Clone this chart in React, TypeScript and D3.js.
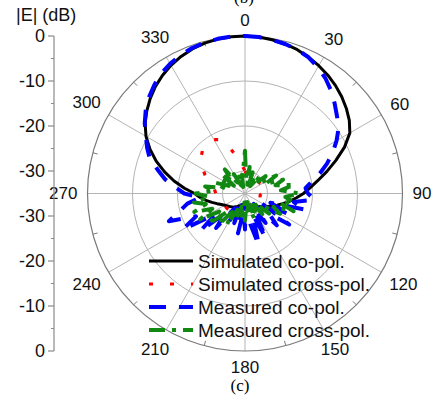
import React from "react";
import * as d3 from "d3";

// ---- data (dB) ----
const angleLabels = ["0", "30", "60", "90", "120", "150", "180", "210", "240", "270", "300", "330"];
const radialTicks = [0, -10, -20, -30];
const radialMinor = [-5, -15, -25];
const stepDeg = 5;

const simCo = [
  0, -0.1, -0.3, -0.6, -1.0, -1.6, -2.2, -2.9, -3.7, -4.6, -5.6, -6.7,
  -8.1, -10.6, -13.5, -16.2, -18.6, -20.5, -22.0, -23.6, -25.0, -26.3, -27.4, -28.4,
  -29.2, -29.9, -30.5, -31.0, -31.4, -31.7, -32.0, -32.2, -32.4, -32.5, -32.6, -32.6,
  -32.6, -32.6, -32.5, -32.4, -32.2, -32.0, -31.7, -31.4, -31.0, -30.8, -30.5, -30.2,
  -29.8, -29.2, -28.4, -27.4, -26.2, -25.0, -23.8, -21.5, -19.0, -16.5, -14.0, -11.7,
  -9.6, -7.9, -6.5, -5.2, -4.0, -3.0, -2.1, -1.4, -0.8, -0.4, -0.15, -0.03,
];

const simCross = [
  -30.0, -30.8, -31.3, -31.5, -31.6, -31.4, -31.0, -30.6, -30.4, -30.5, -30.8, -31.0,
  -30.8, -30.3, -30.0, -29.9, -30.2, -30.8, -31.3, -31.6, -31.6, -31.5, -31.4, -31.6,
  -32.0, -32.4, -32.8, -33.0, -33.2, -33.3, -33.4, -33.4, -33.4, -33.3, -33.2, -33.0,
  -32.8, -32.6, -32.3, -32.0, -31.6, -31.2, -30.8, -30.4, -30.1, -29.9, -29.8, -29.8,
  -29.9, -30.0, -29.9, -29.6, -29.2, -28.8, -28.5, -28.3, -28.0, -27.3, -26.3, -25.2,
  -24.2, -23.2, -22.3, -21.6, -21.2, -21.0, -21.2, -21.8, -23.5, -25.8, -27.6, -29.0,
];

const measCo = [
  0, -0.1, -0.3, -0.6, -1.0, -1.6, -2.6, -3.8, -5.2, -6.8, -8.3, -9.6,
  -11.5, -13.5, -15.6, -17.8, -20.0, -21.5, -21.0, -19.5, -24, -21, -29, -24,
  -31, -23, -28, -25, -32, -27, -31, -24, -30, -23, -28, -33,
  -27, -31, -26, -33, -28, -32, -27, -31, -25, -29, -22, -27,
  -19, -23, -17, -20, -22, -25, -21.5, -19.5, -17, -15, -12.5, -11,
  -9.6, -7.8, -6.2, -4.8, -3.6, -2.5, -1.7, -1.1, -0.6, -0.3, -0.1, 0,
];

const measCross = [
  -25.5, -32, -29, -33, -30, -33.5, -31, -33, -30, -32, -29, -31,
  -27, -30, -26, -28, -24, -27, -23, -26, -24, -27, -23.5, -28,
  -26, -30, -28, -32, -29, -33, -30, -32, -29, -33, -30, -32,
  -29, -33, -30, -32, -29, -31, -27, -30, -26, -29, -24.5, -28,
  -23.5, -27, -23, -26, -23.5, -27, -24, -28, -26, -30, -28, -31,
  -29, -32, -28.5, -31, -28, -32, -30, -33, -31, -33.5, -31, -30,
];

const seriesNames = ["Simulated co-pol.", "Simulated cross-pol.", "Measured co-pol.", "Measured cross-pol."];

// ---- layout ----
const W = 435;
const H = 405;
const cx = 245;
const cy = 193.5;
const R = 157.5;
const font = "'Liberation Sans', Arial, sans-serif";

const rScale = d3.scaleLinear().domain([-35, 0]).range([0, R]).clamp(true);
const yTop = d3.scaleLinear().domain([-35, 0]).range([cy, cy - R]);
const yBot = d3.scaleLinear().domain([-35, 0]).range([cy, cy + R]);

const styles = [
  { color: "#000000", width: 3, dash: "none" },
  { color: "#ff0000", width: 3.2, dash: "4,17" },
  { color: "#0000ff", width: 4, dash: "17,13" },
  { color: "#118811", width: 4, dash: "16,7,4,7" },
];

const toPts = (vals: number[]) => vals.map((v, i) => ({ a: (i * stepDeg * Math.PI) / 180, v }));
const radial = d3
  .lineRadial<{ a: number; v: number }>()
  .angle((d) => d.a)
  .radius((d) => rScale(d.v))
  .curve(d3.curveLinearClosed);

export default function App() {
  const series = [simCo, simCross, measCo, measCross];
  const spokes = d3.range(0, 360, 30);
  const minorTicks = d3.range(15, 360, 30);
  const pt = (deg: number, r: number) => {
    const a = (deg * Math.PI) / 180;
    return [cx + r * Math.sin(a), cy - r * Math.cos(a)];
  };

  return (
    <svg
      width={W}
      height={H}
      style={{ position: "absolute", left: 0, top: 0, background: "#fff" }}
      fontFamily={font}
    >
      <rect x={0} y={0} width={W} height={H} fill="#fff" />
      {/* cut-off caption from previous panel */}
      <text x={244} y={3} textAnchor="middle" fontFamily="'Liberation Serif', serif" fontSize={17} fill="#000">
        (b)
      </text>

      {/* rings */}
      {radialTicks.slice(1).map((t) => (
        <circle key={t} cx={cx} cy={cy} r={rScale(t)} fill="none" stroke="#b4b4b4" strokeWidth={1} />
      ))}
      {/* spokes */}
      {spokes.map((s) => {
        const [x, y] = pt(s, R);
        return <line key={s} x1={cx} y1={cy} x2={x} y2={y} stroke="#b4b4b4" strokeWidth={1} />;
      })}
      <circle cx={cx} cy={cy} r={R} fill="none" stroke="#7a7a7a" strokeWidth={1.2} />
      {minorTicks.map((s) => {
        const [x1, y1] = pt(s, R);
        const [x2, y2] = pt(s, R - 5);
        return <line key={s} x1={x1} y1={y1} x2={x2} y2={y2} stroke="#7a7a7a" strokeWidth={1} />;
      })}

      {/* angle labels */}
      {angleLabels.map((lab, i) => {
        const deg = i * 30;
        const a = (deg * Math.PI) / 180;
        const w = lab.length * 9.5;
        const rr = R + 10 + Math.abs(Math.sin(a)) * (w / 2) + Math.abs(Math.cos(a)) * 6;
        const [x, y] = pt(deg, rr);
        return (
          <text key={lab} x={x} y={y} textAnchor="middle" dominantBaseline="central" fontSize={17} fill="#111">
            {lab}
          </text>
        );
      })}

      {/* series */}
      {series.map((vals, i) => (
        <path
          key={i}
          d={radial(toPts(vals)) || ""}
          transform={`translate(${cx},${cy})`}
          fill="none"
          stroke={styles[i].color}
          strokeWidth={styles[i].width}
          strokeDasharray={styles[i].dash}
          strokeLinejoin="round"
        />
      ))}

      {/* left radial axis */}
      <line x1={54} y1={yTop(0)} x2={54} y2={yBot(0)} stroke="#8a8a8a" strokeWidth={1.2} />
      {[yTop, yBot].map((sc, k) => (
        <g key={k}>
          {radialTicks.map((t) => (
            <g key={t}>
              <line x1={48} x2={54} y1={sc(t)} y2={sc(t)} stroke="#8a8a8a" strokeWidth={1.2} />
              <text x={45} y={sc(t)} textAnchor="end" dominantBaseline="central" fontSize={18} fill="#111">
                {t}
              </text>
            </g>
          ))}
          {radialMinor.map((t) => (
            <line key={t} x1={51} x2={54} y1={sc(t)} y2={sc(t)} stroke="#8a8a8a" strokeWidth={1} />
          ))}
        </g>
      ))}
      <text x={16} y={21} fontSize={18} fill="#111">
        |E| (dB)
      </text>

      {/* legend */}
      {seriesNames.map((name, i) => {
        const y = 261 + i * 23;
        return (
          <g key={name}>
            <line
              x1={149}
              x2={193}
              y1={y}
              y2={y}
              stroke={styles[i].color}
              strokeWidth={styles[i].width}
              strokeDasharray={styles[i].dash}
            />
            <text x={198} y={y} dominantBaseline="central" fontSize={19} fill="#111">
              {name}
            </text>
          </g>
        );
      })}

      <text x={240} y={391} textAnchor="middle" fontFamily="'Liberation Serif', serif" fontSize={17} fill="#000">
        (c)
      </text>
    </svg>
  );
}
